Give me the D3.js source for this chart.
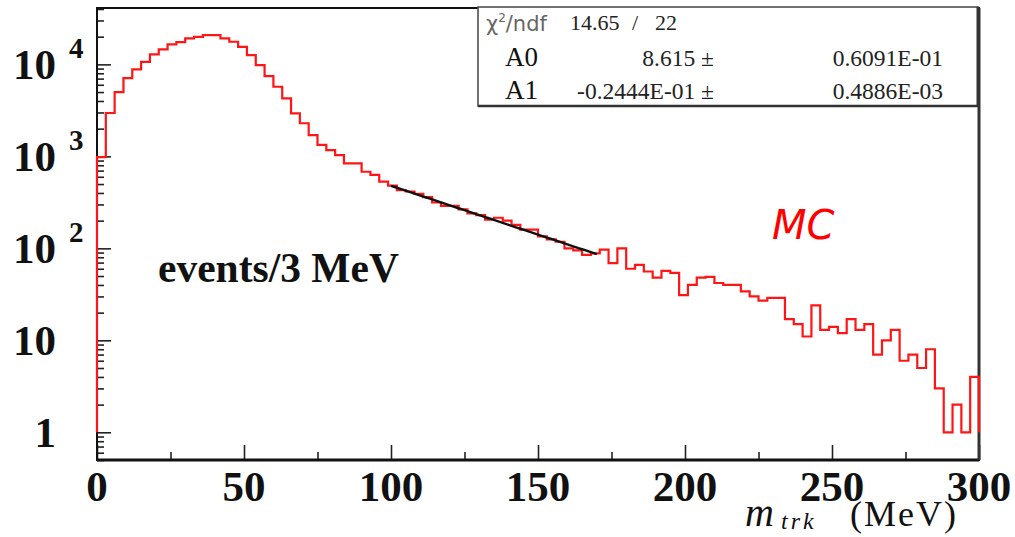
<!DOCTYPE html>
<html><head><meta charset="utf-8">
<script src="https://cdn.jsdelivr.net/npm/d3@7"></script>
<style>body{margin:0;background:#fff} svg{display:block}</style>
</head><body><svg id="c" width="1015" height="537"></svg>
<script>
// ---- data ----
const binLow = 0;
const binWidth = 3; // MeV
const counts = [
  983, 2960, 5000, 7100, 8830, 10670, 12850, 14560, 16490, 17470,
  19180, 19950, 20800, 20800, 19180, 17610, 15530, 12620, 9820, 7460,
  5710, 4270, 2930, 2290, 1705, 1330, 1170, 1030, 840, 840,
  680, 630, 530, 480, 430, 415, 390, 360, 315, 290,
  290, 265, 240, 230, 205, 215, 200, 180, 160, 160,
  135, 125, 118, 100, 95, 85, 88, 97, 69, 100,
  60, 66, 56, 48, 57, 54, 31, 40, 48, 49,
  42, 40, 40, 34, 30, 27, 29, 29, 17, 15,
  11, 24, 13, 14, 12, 17, 13, 15, 7, 10,
  13, 6, 7, 5, 8, 3, 1, 2, 1, 4
];
const xMajorTicks = [0, 50, 100, 150, 200, 250, 300];
const xMinorTicks = [25, 75, 125, 175, 225, 275];
const yMajorTicks = [1, 10, 100, 1000, 10000];
const yBaseLabels = ["1", "10", "10", "10", "10"];
const yExpLabels = ["", "", "2", "3", "4"];
const fitA0 = 8.615, fitA1 = -0.02444;
const fitRange = [100, 170];
const statNames = ["A0", "A1"];
const statValues = ["8.615 \u00b1", "-0.2444E-01 \u00b1"];
const statErrors = ["0.6091E-01", "0.4886E-03"];
const chi2Text = "14.65", ndfText = "22";

// ---- scales ----
const svg = d3.select("#c");
const x = d3.scaleLinear().domain([0, 300]).range([97, 979]);
const y = d3.scaleLog().domain([0.5, 41000]).range([460, 8]);

// minor log ticks
const yMinor = [];
[0.1, 1, 10, 100, 1000, 10000].forEach(d => {
  for (let k = 2; k <= 9; k++) {
    const v = d * k;
    if (v >= 0.5 && v <= 41000 && !yMajorTicks.includes(v)) yMinor.push(v);
  }
});

// ---- ticks ----
const tickColor = "#222";
const gy1 = svg.append("g").attr("transform", `translate(${x(0)},0)`)
  .call(d3.axisRight(y).tickValues(yMajorTicks).tickSize(14).tickFormat(""));
const gy2 = svg.append("g").attr("transform", `translate(${x(0)},0)`)
  .call(d3.axisRight(y).tickValues(yMinor).tickSize(7).tickFormat(""));
const gx1 = svg.append("g").attr("transform", `translate(0,${y(0.5)})`)
  .call(d3.axisTop(x).tickValues(xMajorTicks).tickSize(15).tickFormat(""));
const gx2 = svg.append("g").attr("transform", `translate(0,${y(0.5)})`)
  .call(d3.axisTop(x).tickValues(xMinorTicks).tickSize(8).tickFormat(""));
[gy1, gy2, gx1, gx2].forEach(g => {
  g.select(".domain").remove();
  g.selectAll("line").attr("stroke", tickColor).attr("stroke-width", 1.6);
});

// ---- frame ----
svg.append("rect").attr("x", x(0)).attr("y", y(41000))
  .attr("width", x(300) - x(0)).attr("height", y(0.5) - y(41000))
  .attr("fill", "none").attr("stroke", "#111").attr("stroke-width", 2);
svg.append("line").attr("x1", x(0)).attr("x2", x(300)).attr("y1", y(0.5)).attr("y2", y(0.5))
  .attr("stroke", "#111").attr("stroke-width", 3);
svg.append("line").attr("x1", x(300)).attr("x2", x(300)).attr("y1", y(41000)).attr("y2", y(0.5))
  .attr("stroke", "#333").attr("stroke-width", 3);

// ---- histogram ----
const pts = [[x(binLow), y(1)]];
counts.forEach((c, i) => {
  const lo = binLow + i * binWidth, hi = lo + binWidth;
  pts.push([x(lo), y(c)], [x(hi), y(c)]);
});
pts.push([x(binLow + counts.length * binWidth), y(1)]);
svg.append("path").attr("d", d3.line()(pts))
  .attr("fill", "none").attr("stroke", "#ff1515").attr("stroke-width", 2.2)
  .attr("stroke-linejoin", "miter");

// ---- fit ----
const fitPts = d3.range(fitRange[0], fitRange[1] + 0.01, 1)
  .map(m => [x(m), y(Math.exp(fitA0 + fitA1 * m))]);
svg.append("path").attr("d", d3.line()(fitPts))
  .attr("fill", "none").attr("stroke", "#111").attr("stroke-width", 2.4);

// ---- y labels ----
const serif = "'Liberation Serif','Times New Roman',serif";
yMajorTicks.forEach((v, i) => {
  svg.append("text").attr("x", 56).attr("y", y(v) + 15)
    .attr("text-anchor", "end").attr("font-family", serif).attr("font-weight", "bold")
    .attr("font-size", 43).attr("fill", "#111").text(yBaseLabels[i]);
  if (yExpLabels[i]) {
    svg.append("text").attr("x", 69).attr("y", y(v) - 6)
      .attr("font-family", serif).attr("font-weight", "bold")
      .attr("font-size", 29).attr("fill", "#111").text(yExpLabels[i]);
  }
});

// ---- x labels ----
xMajorTicks.forEach(v => {
  svg.append("text").attr("x", x(v)).attr("y", 501)
    .attr("text-anchor", "middle").attr("font-family", serif).attr("font-weight", "bold")
    .attr("font-size", 43).attr("fill", "#111").text(v);
});

// axis title
const tt = svg.append("text").attr("y", 526)
  .attr("font-family", serif).attr("font-size", 36).attr("fill", "#111");
tt.append("tspan").attr("x", 745).attr("font-style", "italic").attr("font-size", 40).text("m");
tt.append("tspan").attr("x", 781).attr("font-style", "italic").attr("font-size", 24)
  .attr("letter-spacing", 3).attr("dy", 3).text("trk");
tt.append("tspan").attr("x", 850).attr("dy", -3).attr("letter-spacing", 2).text("(MeV)");

// ---- annotations ----
svg.append("text").attr("x", 158).attr("y", 282)
  .attr("font-family", serif).attr("font-weight", "bold").attr("font-size", 41.5)
  .attr("fill", "#111").text("events/3 MeV");
svg.append("text").attr("x", 772).attr("y", 239)
  .attr("font-family", "'DejaVu Sans',sans-serif").attr("font-style", "italic")
  .attr("font-size", 40).attr("fill", "#ff0000").text("MC");

// ---- stats box ----
const bx = 478, by = 7, bw = 500, bh = 99;
svg.append("rect").attr("x", bx).attr("y", by).attr("width", bw).attr("height", bh)
  .attr("fill", "#fff").attr("stroke", "#444").attr("stroke-width", 1.5);
svg.append("line").attr("x1", bx + bw).attr("x2", bx + bw).attr("y1", by).attr("y2", by + bh)
  .attr("stroke", "#333").attr("stroke-width", 3);
svg.append("line").attr("x1", bx).attr("x2", bx + bw).attr("y1", by + bh).attr("y2", by + bh)
  .attr("stroke", "#333").attr("stroke-width", 2.5);

const chi = svg.append("text").attr("x", 486).attr("y", 31)
  .attr("font-family", "'DejaVu Sans',sans-serif").attr("font-size", 21).attr("fill", "#666");
chi.append("tspan").text("\u03c7");
chi.append("tspan").attr("font-size", 12).attr("dy", -9).text("2");
chi.append("tspan").attr("dy", 9).text("/ndf");
svg.append("text").attr("x", 570).attr("y", 30).attr("font-family", serif)
  .attr("font-size", 22).attr("fill", "#222").text(chi2Text);
svg.append("text").attr("x", 632).attr("y", 30).attr("font-family", serif)
  .attr("font-size", 22).attr("fill", "#222").text("/");
svg.append("text").attr("x", 655).attr("y", 30).attr("font-family", serif)
  .attr("font-size", 22).attr("fill", "#222").text(ndfText);

statNames.forEach((n, i) => {
  const yy = 66 + i * 33;
  svg.append("text").attr("x", 505).attr("y", yy).attr("font-family", serif)
    .attr("font-size", 27).attr("fill", "#111").text(n);
  svg.append("text").attr("x", 714).attr("y", yy).attr("text-anchor", "end")
    .attr("font-family", serif).attr("font-size", 23.5).attr("fill", "#222").text(statValues[i]);
  svg.append("text").attr("x", 943).attr("y", yy).attr("text-anchor", "end")
    .attr("font-family", serif).attr("font-size", 23.5).attr("fill", "#222").text(statErrors[i]);
});
</script></body></html>
